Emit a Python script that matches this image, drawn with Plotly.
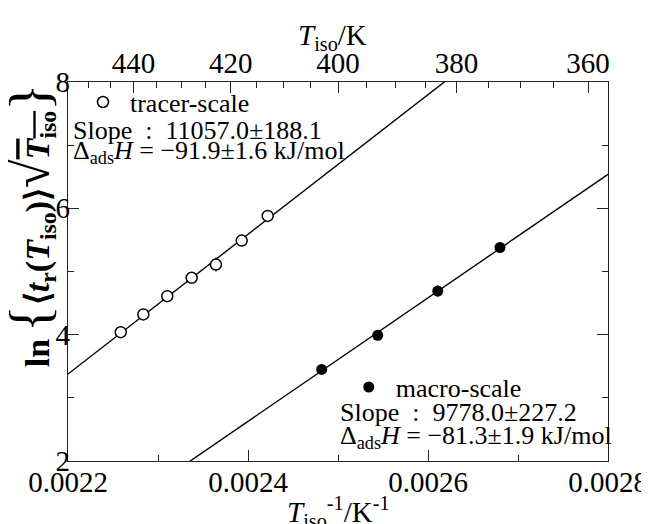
import plotly.graph_objects as go

# ---- data ----
tracer_x = [0.0022586, 0.0022837, 0.0023103, 0.0023374, 0.0023644, 0.0023930, 0.0024219]
tracer_y = [4.04, 4.32, 4.61, 4.90, 5.11, 5.49, 5.88]
tracer_err = [0.04, 0.04, 0.04, 0.04, 0.11, 0.04, 0.04]

macro_x = [0.0024819, 0.0025441, 0.0026108, 0.0026800]
macro_y = [3.45, 3.99, 4.69, 5.38]
macro_err = [0.05, 0.05, 0.09, 0.05]

tracer_slope = 11057.0
tracer_intercept = -20.9485
macro_slope = 9778.0
macro_intercept = -20.8399

x_range = [0.0022, 0.0028]
y_range = [2, 8]
x_ticks = [0.0022, 0.0024, 0.0026, 0.0028]
x_ticktext = ["0.0022", "0.0024", "0.0026", "0.0028"]
x_minor = [0.0023, 0.0025, 0.0027]
y_ticks = [2, 4, 6, 8]
y_minor = [3, 5, 7]
T_major = [440, 420, 400, 380, 360]
T_minor = [450, 445, 435, 430, 425, 415, 410, 405, 395, 390, 385, 375, 370, 365]

FONT = "Liberation Serif"

fig = go.Figure()

# fit lines
fig.add_trace(go.Scatter(x=x_range, y=[tracer_slope * v + tracer_intercept for v in x_range],
                         mode="lines", line=dict(color="black", width=1.4),
                         showlegend=False, hoverinfo="skip"))
fig.add_trace(go.Scatter(x=x_range, y=[macro_slope * v + macro_intercept for v in x_range],
                         mode="lines", line=dict(color="black", width=1.4),
                         showlegend=False, hoverinfo="skip"))

# data points
fig.add_trace(go.Scatter(x=tracer_x, y=tracer_y, mode="markers", name="tracer-scale",
                         marker=dict(symbol="circle", size=11, color="white",
                                     line=dict(color="black", width=1.5)),
                         error_y=dict(type="data", array=tracer_err, color="black",
                                      thickness=1.2, width=0),
                         legend="legend"))
fig.add_trace(go.Scatter(x=macro_x, y=macro_y, mode="markers", name="macro-scale",
                         marker=dict(symbol="circle", size=11, color="black"),
                         error_y=dict(type="data", array=macro_err, color="black",
                                      thickness=1.2, width=0),
                         legend="legend2"))

# invisible trace to activate the top temperature axis
fig.add_trace(go.Scatter(x=[x_range[0]], y=[y_range[0]], xaxis="x2", mode="markers",
                         marker=dict(opacity=0), showlegend=False, hoverinfo="skip"))

tickfont = dict(family=FONT, size=29, color="black")
axis_common = dict(showgrid=False, zeroline=False, showline=True, linecolor="#222",
                   linewidth=1.4, ticks="inside", tickcolor="#222", tickwidth=1.2,
                   ticklen=11, tickfont=tickfont, automargin=False)

fig.update_layout(
    width=649, height=524,
    margin=dict(l=60, r=49, t=74, b=71, autoexpand=False),
    paper_bgcolor="white", plot_bgcolor="white",
    hovermode=False,
    xaxis=dict(range=x_range, tickmode="array", tickvals=x_ticks, ticktext=x_ticktext,
               minor=dict(tickmode="array", tickvals=x_minor, ticks="inside", ticklen=6,
                          tickwidth=1.2, tickcolor="#222"),
               ticklabelstandoff=-5,
               **axis_common),
    xaxis2=dict(range=x_range, overlaying="x", side="top", anchor="y",
                tickmode="array", tickvals=[1.0 / t for t in T_major],
                ticktext=[str(t) for t in T_major],
                minor=dict(tickmode="array", tickvals=[1.0 / t for t in T_minor],
                           ticks="inside", ticklen=6, tickwidth=1.2, tickcolor="#222"),
                ticklabelstandoff=-4,
                **axis_common),
    yaxis=dict(range=y_range, tickmode="array", tickvals=y_ticks,
               ticktext=[str(v) for v in y_ticks], mirror="ticks",
               minor=dict(tickmode="array", tickvals=y_minor, ticks="inside", ticklen=6,
                          tickwidth=1.2, tickcolor="#222"),
               ticklabelstandoff=-9,
               **axis_common),
    legend=dict(x=0.0148, y=0.947, xanchor="left", yanchor="middle", itemwidth=44,
                bgcolor="rgba(0,0,0,0)", borderwidth=0,
                font=dict(family=FONT, size=26, color="black")),
    legend2=dict(x=0.507, y=0.195, xanchor="left", yanchor="middle", itemwidth=44,
                 bgcolor="rgba(0,0,0,0)", borderwidth=0,
                 font=dict(family=FONT, size=26, color="black")),
)

ann_font = dict(family=FONT, size=26, color="black")
annotations = [
    dict(x=0.006, y=0.873, text="Slope\u2002:\u200211057.0±188.1"),
    dict(x=0.006, y=0.815, text="Δ<sub>ads</sub><i>H</i> = −91.9±1.6 kJ/mol"),
    dict(x=0.500, y=0.127, text="Slope\u2002:\u20029778.0±227.2"),
    dict(x=0.500, y=0.063, text="Δ<sub>ads</sub><i>H</i> = −81.3±1.9 kJ/mol"),
]
for a in annotations:
    fig.add_annotation(xref="paper", yref="paper", xanchor="left", yanchor="middle",
                       showarrow=False, font=ann_font, **a)

# axis titles
fig.add_annotation(xref="paper", yref="paper", x=0.49, y=1.12, xanchor="center",
                   yanchor="middle", showarrow=False,
                   text="<i>T</i><sub>iso</sub>/K",
                   font=dict(family=FONT, size=29, color="black"))
fig.add_annotation(xref="paper", yref="paper", x=0.50, y=-0.135, xanchor="center",
                   yanchor="middle", showarrow=False,
                   text="<i>T</i><sub>iso</sub><sup>-1</sup>/K<sup>-1</sup>",
                   font=dict(family=FONT, size=29, color="black"))
fig.add_annotation(xref="paper", yref="paper", x=-0.07, y=0.62, xanchor="center",
                   yanchor="middle", showarrow=False, textangle=-90,
                   text="<b>ln</b>\u2009<span style='font-size:56px'>{</span>"
                        "<b>⟨<i>t</i><sub>r</sub>"
                        "(<i>T</i><sub>iso</sub>)⟩</b><span style='font-size:52px'>√</span>"
                        "<b><span style='text-decoration:overline'><i>T</i><sub>iso</sub></span></b>"
                        "<span style='font-size:56px'>}</span>",
                   font=dict(family=FONT, size=34, color="black"))

fig.write_html("out.html")
